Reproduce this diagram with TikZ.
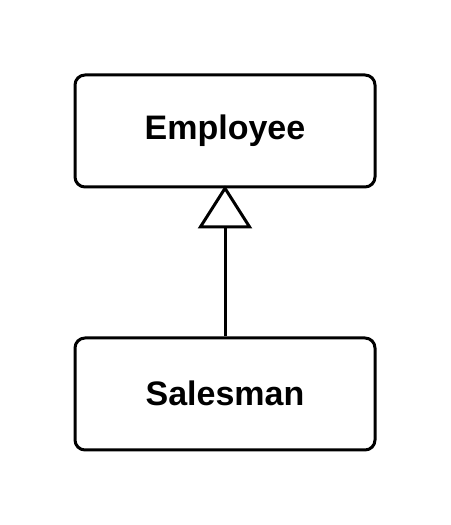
\documentclass[tikz,border=0pt]{standalone}
\usepackage{fontspec}
\setmainfont{Liberation Sans}
\usetikzlibrary{arrows.meta}
\begin{document}
\begin{tikzpicture}[x=1pt,y=1pt,
  classbox/.style={draw=black, line width=3pt, rounded corners=10pt, minimum width=300pt, minimum height=112pt, inner sep=0pt, font=\fontsize{34}{40}\selectfont\bfseries},
  inherit/.style={line width=3pt, shorten >=-3pt, -{Triangle[open, length=43pt 0 0, width=54pt 0 0]}}]
\useasboundingbox (0,0) rectangle (450,525);
\fill[white] (0,0) rectangle (450,525);
\node[classbox] (emp) at (225,394) {\raisebox{2pt}{Employee}};
\node[classbox] (sal) at (225,131) {\raisebox{1pt}{Salesman}};
\draw[inherit] (sal.north) -- (emp.south);
\end{tikzpicture}
\end{document}
